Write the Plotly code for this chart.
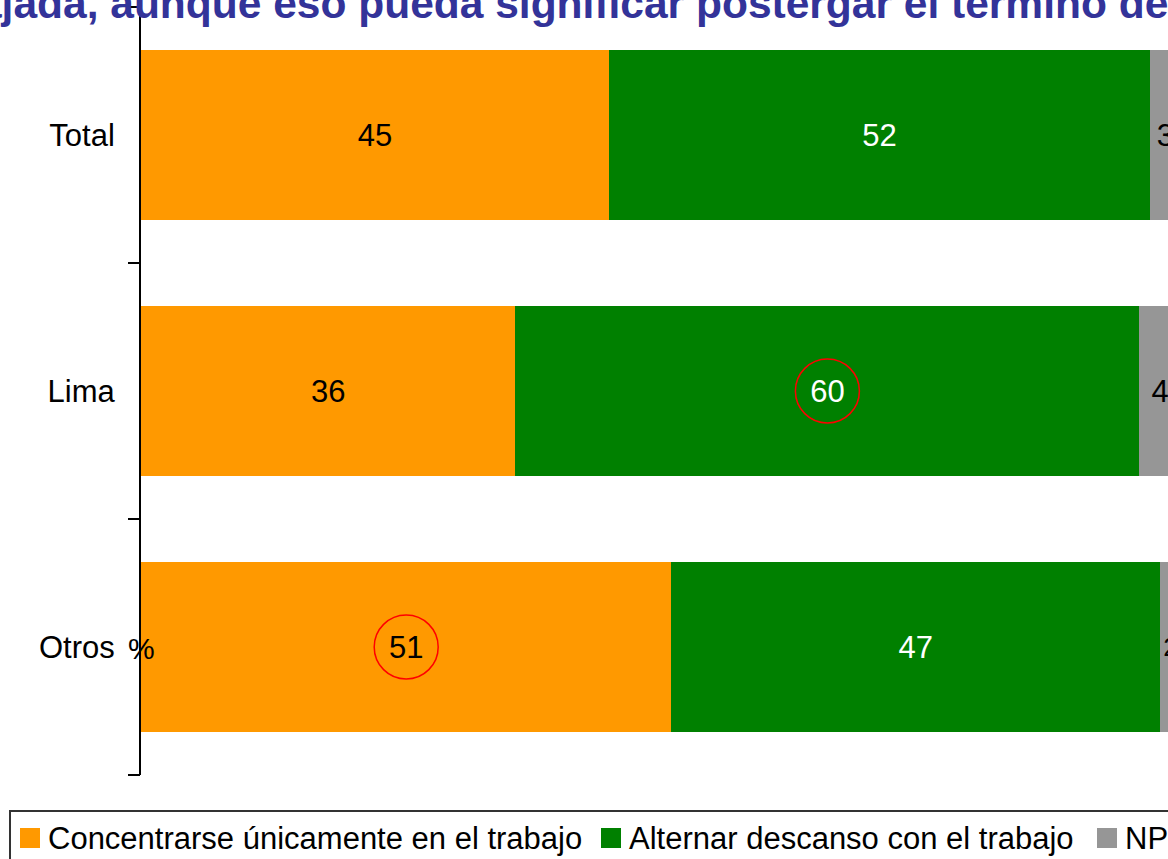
import plotly.graph_objects as go

# datos
categorias = ["Total", "Lima", "Otros"]
concentrarse = [45, 36, 51]
alternar = [52, 60, 47]
no_precisa = [3, 4, 2]

series = [
    ("Concentrarse únicamente en el trabajo", concentrarse, "#FF9900", "black"),
    ("Alternar descanso con el trabajo", alternar, "#008000", "white"),
    ("NP", no_precisa, "#969696", "black"),
]

# celdas resaltadas con círculo rojo (categoría, índice de serie)
resaltados = [("Lima", 1), ("Otros", 0)]

titulo = "relajada, aunque eso pueda significar postergar el término de la jornada?"

fuente = "Liberation Sans, Arial, sans-serif"

# geometría en píxeles del área de trazado
W, H = 1168, 859
L, T, B = 141, 7, 84
ancho = W - L
alto = H - T - B


def px_x(x):
    return (x - L) / ancho


def px_y(y):
    return (H - B - y) / alto


fig = go.Figure()
for nombre, valores, color, color_txt in series:
    fig.add_trace(go.Bar(
        y=categorias, x=valores, name=nombre, orientation="h",
        marker=dict(color=color, line=dict(width=0)),
        text=valores, textposition="inside", insidetextanchor="middle",
        textfont=dict(size=31, color=color_txt, family=fuente),
        textangle=0, showlegend=False, hoverinfo="skip",
    ))

# círculos rojos alrededor de los valores resaltados
for cat, idx in resaltados:
    i = categorias.index(cat)
    inicio = sum(s[1][i] for s in series[:idx])
    centro = inicio + series[idx][1][i] / 2
    fig.add_shape(type="circle", xref="x", yref="y",
                  xsizemode="pixel", ysizemode="pixel",
                  xanchor=centro, yanchor=i,
                  x0=-32, x1=32, y0=-32, y1=32,
                  line=dict(color="#FF0000", width=1.5))

# leyenda dibujada a mano (marco, cuadros y textos)
fig.add_shape(type="rect", xref="paper", yref="paper",
              x0=px_x(10), x1=px_x(1300), y0=px_y(811), y1=px_y(1000),
              line=dict(color="#333333", width=2))
leyenda_x = [20, 601, 1097]
for (nombre, _, color, _), x in zip(series, leyenda_x):
    fig.add_shape(type="rect", xref="paper", yref="paper",
                  x0=px_x(x), x1=px_x(x + 20), y0=px_y(848), y1=px_y(828),
                  line=dict(width=0), fillcolor=color)
    fig.add_annotation(text=nombre, xref="paper", yref="paper",
                       x=px_x(x + 26), y=px_y(838), xanchor="left",
                       yanchor="middle", showarrow=False,
                       font=dict(size=31, color="black", family=fuente))

fig.add_annotation(text=titulo, xref="paper", yref="paper",
                   x=px_x(-76), y=px_y(29), xanchor="left", yanchor="bottom",
                   showarrow=False,
                   font=dict(size=42.5, color="#333399", family=fuente,
                             weight="bold"))

fig.add_annotation(text="%", xref="x", yref="y", x=0, y=2,
                   xanchor="center", yanchor="bottom", yshift=-20,
                   showarrow=False,
                   font=dict(size=30, color="black", family=fuente))

# marcas del eje en los límites de cada categoría
limites = [i - 0.5 for i in range(len(categorias) + 1)]
rango_y = [len(categorias) - 0.5, -0.5]

fig.update_layout(
    barmode="stack",
    bargap=0.336,
    width=W, height=H,
    margin=dict(l=L, r=0, t=T, b=B),
    paper_bgcolor="white", plot_bgcolor="white",
    font=dict(family=fuente, color="black"),
    showlegend=False,
    yaxis2=dict(overlaying="y", side="left", range=rango_y,
                tickmode="array", tickvals=limites, showticklabels=False,
                ticks="outside", ticklen=12, tickwidth=2, tickcolor="black",
                showgrid=False, zeroline=False, showline=False),
)
fig.update_xaxes(visible=False, range=[0, ancho / 10.4], fixedrange=True)
fig.layout.yaxis.update(type="category", range=rango_y, showline=True,
                        linecolor="black", linewidth=2, ticks="",
                        tickfont=dict(size=31, color="black", family=fuente),
                        ticklabelstandoff=18, showgrid=False, zeroline=False)

# traza invisible para activar el segundo eje y
fig.add_trace(go.Scatter(x=[None], y=[None], yaxis="y2", showlegend=False,
                         hoverinfo="skip"))

fig.write_html("out.html", config={"displayModeBar": False},
               post_script="document.body.style.margin='0';"
                           "document.body.style.overflow='hidden';")
